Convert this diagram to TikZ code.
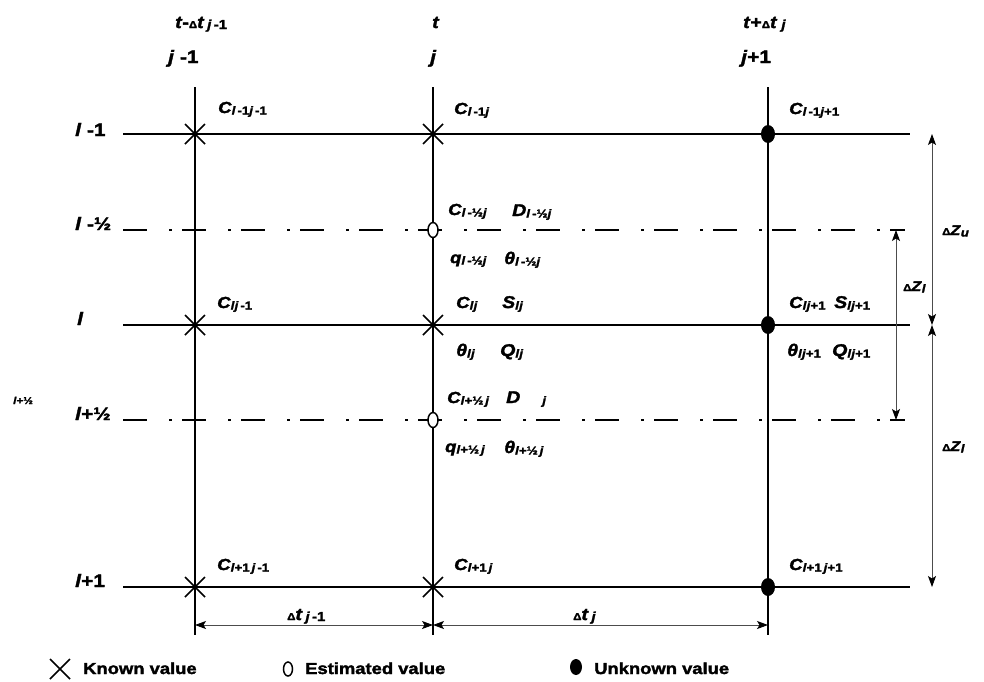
\documentclass[tikz,border=0pt]{standalone}
\usepackage{fontspec}
\setmainfont{Liberation Sans}[FakeStretch=1.15, BoldFeatures={FakeBold=2}, BoldItalicFeatures={FakeBold=2}]
\usetikzlibrary{arrows.meta,shapes.misc,shapes.geometric}

% index letters and small symbols
\newcommand{\lx}{\textit{l}}
\newcommand{\jx}{\textit{j}}
\newcommand{\sbx}[1]{\raisebox{-1.5pt}{\fontsize{11.5}{11.5}\selectfont#1}}
\newcommand{\sbh}[1]{\raisebox{-1pt}{\fontsize{13}{13}\selectfont#1}}
\newcommand{\dl}{{\fontsize{10}{10}\selectfont Δ}}

\begin{document}
\begin{tikzpicture}[x=1pt,y=-1pt,
  gridline/.style={line width=1.2pt},
  halfrow/.style={line width=1.2pt, dash pattern=on 24pt off 22pt on 3pt off 10pt},
  known/.style={cross out, draw, line width=1.6pt, minimum size=20pt, inner sep=0pt, outer sep=0pt},
  est/.style={ellipse, draw, line width=1.5pt, fill=white, minimum width=10pt, minimum height=15pt, inner sep=0pt},
  unk/.style={ellipse, fill=black, minimum width=14pt, minimum height=18pt, inner sep=0pt},
  tipx/.style={Stealth[length=11pt,width=8pt,inset=2.5pt,color=black,fill=black]},
  dimarrow/.style={{Stealth[length=11pt,width=8pt,inset=2.5pt,color=black,fill=black]}-{Stealth[length=11pt,width=8pt,inset=2.5pt,color=black,fill=black]}, line width=0.8pt, draw=black!70},
  biglbl/.style={anchor=base west, inner sep=0pt, font=\bfseries\fontsize{18}{18}\selectfont},
  headlbl/.style={anchor=base west, inner sep=0pt, font=\bfseries\fontsize{17}{17}\selectfont},
  vallbl/.style={anchor=base west, inner sep=0pt, font=\bfseries\fontsize{16}{16}\selectfont},
  vallblb/.style={anchor=base west, inner sep=0pt, font=\bfseries\fontsize{17}{17}\selectfont},
  dzlbl/.style={anchor=base west, inner sep=0pt, font=\bfseries\fontsize{14}{14}\selectfont},
  leglbl/.style={anchor=base west, inner sep=0pt, font=\bfseries\fontsize{16}{16}\selectfont},
]
\useasboundingbox (0,0) rectangle (984,681);

% grid ends
\coordinate (r1w) at (123,134); \coordinate (r1e) at (910,134);
\coordinate (h1w) at (123,230); \coordinate (h1e) at (905,230);
\coordinate (r2w) at (123,325); \coordinate (r2e) at (910,325);
\coordinate (h2w) at (123,420); \coordinate (h2e) at (905,420);
\coordinate (r3w) at (123,587); \coordinate (r3e) at (910,587);
\coordinate (aT) at (195,87);  \coordinate (aB) at (195,635);
\coordinate (bT) at (433,87);  \coordinate (bB) at (433,635);
\coordinate (cT) at (768,87);  \coordinate (cB) at (768,635);

\draw[gridline] (r1w) -- (r1e);
\draw[gridline] (r2w) -- (r2e);
\draw[gridline] (r3w) -- (r3e);
\draw[halfrow] (h1w) -- (h1e);
\draw[halfrow] (h2w) -- (h2e);
\draw[gridline] (aT) -- (aB);
\draw[gridline] (bT) -- (bB);
\draw[gridline] (cT) -- (cB);

% grid points
\node[known] (p11) at (195,134) {};
\node[known] (p12) at (433,134) {};
\node[unk]   (p13) at (768,134) {};
\node[est]   (q1)  at (433,230) {};
\node[known] (p21) at (195,325) {};
\node[known] (p22) at (433,325) {};
\node[unk]   (p23) at (768,325) {};
\node[est]   (q2)  at (433,420) {};
\node[known] (p31) at (195,587) {};
\node[known] (p32) at (433,587) {};
\node[unk]   (p33) at (768,587) {};

% dimension lines
\coordinate (dA) at (195,625); \coordinate (dB) at (433,625); \coordinate (dC) at (768,625);
\draw[dimarrow] (dA) -- (dB);
\draw[dimarrow] (dB) -- (dC);
\coordinate (zu1) at (932,134); \coordinate (zu2) at (932,325); \coordinate (zu3) at (932,587);
\draw[dimarrow] (zu1) -- (zu2);
\draw[dimarrow] (zu2) -- (zu3);
\coordinate (zl1) at (896,230); \coordinate (zl2) at (896,420);
\draw[dimarrow] (zl1) -- (zl2);

% time labels
\node[headlbl] (tm1) at (175,28) {\textit{t}-\dl\textit{t}\,\sbh{\jx\,-1}};
\node[headlbl] (tm2) at (432,28) {\textit{t}};
\node[headlbl] (tm3) at (743,28) {\textit{t}+\dl\textit{t}\sbh{\ \jx}};
\node[biglbl] (jm1) at (168,63) {\jx\ -1};
\node[biglbl] (jm2) at (430,63) {\jx};
\node[biglbl] (jm3) at (741,63) {\jx+1};

% layer labels
\node[biglbl] (lm1) at (75,136) {\lx\ -1};
\node[biglbl] (lmh) at (75,230) {\lx\ -½};
\node[biglbl] (lm0) at (77,325) {\lx};
\node[biglbl] (lph) at (75,420) {\lx+½};
\node[biglbl] (lp1) at (75,587) {\lx+1};
\node[anchor=base west, inner sep=0pt, font=\bfseries\fontsize{10}{10}\selectfont] (lphs) at (13,404) {\lx+½};

% values at grid points
\node[vallbl] (c11) at (218,113) {\textit{C}\sbx{\lx\,-1\jx\,-1}};
\node[vallbl] (c12) at (454,114) {\textit{C}\sbx{\lx\,-1\jx}};
\node[vallbl] (c13) at (789,114) {\textit{C}\sbx{\lx\,-1\jx+1}};

\node[vallbl]  (ch1) at (448,215) {\textit{C}\sbx{\lx\,-½\jx}};
\node[vallblb] (dh1) at (512,216) {\textit{D}\sbx{\lx\,-½\jx}};
\node[vallbl]  (qh1) at (450,263) {\textit{q}\sbx{\lx\,-½\jx}};
\node[vallblb] (th1) at (504,264) {\textit{θ}\sbx{\lx\,-½\jx}};

\node[vallbl]  (c21) at (217,308) {\textit{C}\sbx{\lx\jx\,-1}};
\node[vallbl]  (c22) at (456,308) {\textit{C}\sbx{\lx\jx}};
\node[vallblb] (s22) at (502,308) {\textit{S}\sbx{\lx\jx}};
\node[vallblb] (t22) at (456,356) {\textit{θ}\sbx{\lx\jx}};
\node[vallblb] (q22) at (500,356) {\textit{Q}\sbx{\lx\jx}};
\node[vallbl]  (c23) at (789,308) {\textit{C}\sbx{\lx\jx+1}};
\node[vallblb] (s23) at (834,308) {\textit{S}\sbx{\lx\jx+1}};
\node[vallblb] (t23) at (787,356) {\textit{θ}\sbx{\lx\jx+1}};
\node[vallblb] (q23) at (832,356) {\textit{Q}\sbx{\lx\jx+1}};

\node[vallbl]  (ch2) at (447,403) {\textit{C}\sbx{\lx+½\,\jx}};
\node[vallblb] (dh2) at (506,403) {\textit{D}\sbx{\hspace{22pt}\jx}};
\node[vallbl]  (qh2) at (445,452) {\textit{q}\sbx{\lx+½\,\jx}};
\node[vallblb] (th2) at (504,453) {\textit{θ}\sbx{\lx+½\,\jx}};

\node[vallbl] (c31) at (217,570) {\textit{C}\sbx{\lx+1\,\jx\,-1}};
\node[vallbl] (c32) at (454,570) {\textit{C}\sbx{\lx+1\,\jx}};
\node[vallbl] (c33) at (789,570) {\textit{C}\sbx{\lx+1\,\jx+1}};

% spacing labels
\node[headlbl] (dt1) at (287,620) {\dl\textit{t}\,\sbh{\jx\,-1}};
\node[headlbl] (dt2) at (573,620) {\dl\textit{t}\,\sbh{\jx}};
\node[dzlbl] (dzu) at (942,235) {\dl\textit{Z}\sbx{\textit{u}}};
\node[dzlbl] (dzl) at (903,291) {\dl\textit{Z}\sbx{\lx}};
\node[dzlbl] (dzl2) at (942,451) {\dl\textit{Z}\sbx{\lx}};

% legend
\node[known] (lgk) at (60,669) {};
\node[leglbl] (lgkt) at (83,674) {Known value};
\node[est, minimum width=9pt, minimum height=14pt] (lge) at (288,669) {};
\node[leglbl] (lget) at (305,674) {Estimated value};
\node[unk, minimum width=12pt, minimum height=16pt] (lgu) at (576,667) {};
\node[leglbl] (lgut) at (594,674) {Unknown value};
\end{tikzpicture}
\end{document}
